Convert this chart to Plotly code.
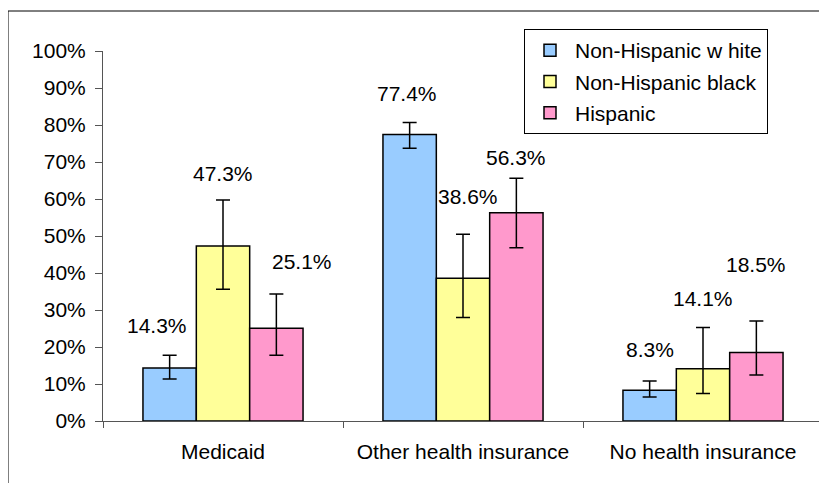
import plotly.graph_objects as go

categories = ["Medicaid", "Other health insurance", "No health insurance"]
series_names = ["Non-Hispanic w hite", "Non-Hispanic black", "Hispanic"]
white = [14.3, 77.4, 8.3]
black = [47.3, 38.6, 14.1]
hispanic = [25.1, 56.3, 18.5]
white_hi = [17.8, 80.7, 10.8]
white_lo = [11.35, 73.7, 6.5]
black_hi = [59.7, 50.5, 25.3]
black_lo = [35.6, 28.0, 7.4]
hisp_hi = [34.3, 65.6, 27.0]
hisp_lo = [17.8, 46.8, 12.4]
tick_vals = [0, 10, 20, 30, 40, 50, 60, 70, 80, 90, 100]
tick_text = ["0%", "10%", "20%", "30%", "40%", "50%", "60%", "70%", "80%", "90%", "100%"]

values = [white, black, hispanic]
his = [white_hi, black_hi, hisp_hi]
los = [white_lo, black_lo, hisp_lo]
colors = ["#99CCFF", "#FFFF99", "#FF99CC"]

# label placement (style): height in axis units and extra pixel shift
label_y = [[25.7, 88.6, 19.2], [66.9, 60.8, 33.2], [43.2, 71.2, 42.4]]
label_dx = [[-13, -3, 0], [0, 5, 0], [26, 0, 0]]

FONT = "Liberation Sans, Arial, sans-serif"
FS = 21

fig = go.Figure()
for j in range(3):
    v = values[j]
    fig.add_trace(go.Bar(
        x=categories, y=v, name=series_names[j], legendgroup=f"g{j}",
        marker=dict(color=colors[j], line=dict(color="black", width=1.5)),
        error_y=dict(type="data", symmetric=False,
                     array=[h - a for h, a in zip(his[j], v)],
                     arrayminus=[a - l for a, l in zip(v, los[j])],
                     color="black", thickness=1.5, width=7),
    ))

bargap = 0.333
barw = (1 - bargap) / 3
annotations = []
for j in range(3):
    for i in range(3):
        annotations.append(dict(
            x=i + (j - 1) * barw, y=label_y[j][i], xref="x", yref="y",
            text=f"{values[j][i]:.1f}%", showarrow=False,
            xshift=label_dx[j][i],
            font=dict(family=FONT, size=FS, color="black"),
        ))

# page body has an 8px margin on each side; keep the figure inside the viewport
OFF = 8
W, H = 827 - OFF, 491 - 2 * OFF
ml, mt = 103 - OFF, 51 - OFF
mr = W - (823 - OFF)
mb = H - (421 - OFF)
pw, ph = W - ml - mr, H - mt - mb

def px_to_paper_x(px):
    return (px - OFF - ml) / pw

def px_to_paper_y(py):
    return (H - mb - (py - OFF)) / ph

bx0, bx1 = px_to_paper_x(8), px_to_paper_x(900)
by0, by1 = px_to_paper_y(600), px_to_paper_y(11)

fig.update_layout(
    width=W, height=H,
    margin=dict(l=ml, r=mr, t=mt, b=mb, autoexpand=False),
    paper_bgcolor="white", plot_bgcolor="white",
    barmode="group", bargap=bargap, bargroupgap=0,
    font=dict(family=FONT, size=FS, color="black"),
    showlegend=True,
    legend=dict(
        x=px_to_paper_x(524), y=px_to_paper_y(29), xanchor="left", yanchor="top",
        bordercolor="black", borderwidth=1, bgcolor="white",
        font=dict(family=FONT, size=FS, color="black"),
        traceorder="grouped", tracegroupgap=1, itemwidth=40,
    ),
    annotations=annotations,
    shapes=[
        dict(type="line", xref="paper", yref="paper", x0=bx0, x1=bx0, y0=by0, y1=by1,
             line=dict(color="black", width=1), layer="below"),
        dict(type="line", xref="paper", yref="paper", x0=bx0, x1=bx1, y0=by1, y1=by1,
             line=dict(color="black", width=1), layer="below"),
    ],
    xaxis=dict(
        type="category", tickson="boundaries", ticks="outside", ticklen=6,
        tickcolor="#555", showline=True, linecolor="#555", linewidth=1,
        showgrid=False, zeroline=False, ticklabelstandoff=12,
        tickfont=dict(family=FONT, size=FS, color="black"),
        range=[-0.5, 2.5],
    ),
    yaxis=dict(
        range=[0, 100], tickvals=tick_vals, ticktext=tick_text,
        ticks="outside", ticklen=7, tickcolor="#555",
        showline=True, linecolor="#555", linewidth=1,
        showgrid=False, zeroline=False, ticklabelstandoff=5,
        tickfont=dict(family=FONT, size=FS, color="black"),
    ),
)

fig.write_html("out.html")
